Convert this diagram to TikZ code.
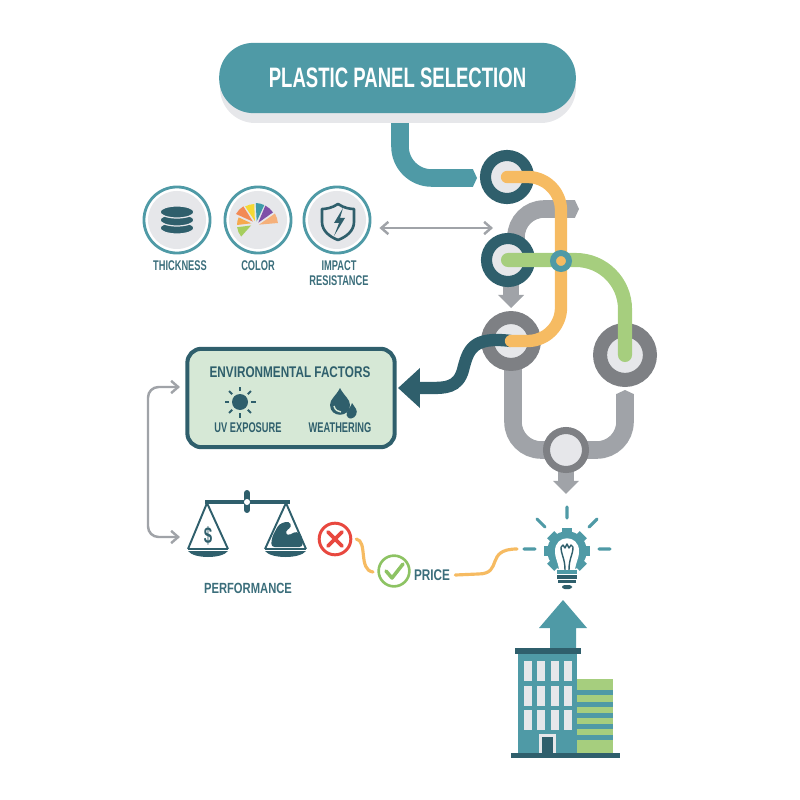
\documentclass[tikz,border=0pt]{standalone}
\usepackage{fontspec}
\setmainfont{Liberation Sans}
\newfontfamily\labelfont[FakeStretch=0.66]{Liberation Sans}
\newfontfamily\widelabelfont[FakeStretch=0.76]{Liberation Sans}
\usetikzlibrary{arrows.meta,backgrounds,calc}

\definecolor{pipeteal}{HTML}{4F9AA6}
\definecolor{darkteal}{HTML}{2F5F6C}
\definecolor{labelteal}{HTML}{3B6E7B}
\definecolor{pipegrey}{HTML}{A0A3A8}
\definecolor{ringgrey}{HTML}{7E8084}
\definecolor{padgrey}{HTML}{E6E7EA}
\definecolor{lineorange}{HTML}{F6BB62}
\definecolor{linegreen}{HTML}{A6CE7E}
\definecolor{boxgreen}{HTML}{D6E8D6}
\definecolor{badred}{HTML}{E8483F}
\definecolor{okgreen}{HTML}{8DC363}

\tikzset{
  station/.style={circle,draw=darkteal,fill=padgrey,inner sep=0pt,minimum size=24.5pt,line width=6.3pt},
  greystation/.style={station,draw=ringgrey},
  iconring/.style={circle,draw=pipeteal,fill=white,inner sep=0pt,minimum size=37.6pt,line width=1.6pt},
  pipe/.style={line width=10pt},
  thinarrow/.style={draw=pipegrey,line width=1.4pt},
  caption/.style={font=\labelfont\bfseries\fontsize{8}{8}\selectfont,text=labelteal,inner sep=0pt,align=center},
  bigcaption/.style={caption,font=\widelabelfont\bfseries\fontsize{8.8}{9}\selectfont},
  ray/.style={draw=pipeteal,line width=1.8pt,line cap=round},
  greyhead/.tip={Triangle[length=7.5pt,width=14.5pt]},
  pipecap/.tip={Triangle Cap[cap angle=130]},
  barb/.tip={Straight Barb[length=4pt,width=7pt]},
}

\begin{document}
\begin{tikzpicture}[x=0.02cm,y=-0.02cm]
  \useasboundingbox (0,0) rectangle (800,800);

  % title
  \fill[rounded corners=20pt,padgrey] (220,54) rectangle (576,123);
  \node[fill=pipeteal,rounded corners=19.5pt,minimum width=203pt,minimum height=40pt,inner sep=0pt,
    text=white,font=\labelfont\bfseries\fontsize{16}{16}\selectfont] (title) at (397.5,78) {PLASTIC PANEL SELECTION};

  % stations
  \node[station] (stA) at (507,177) {};
  \node[station] (stB) at (508,260) {};
  \node[greystation,minimum size=26.7pt,line width=7.4pt] (stC) at (511,341) {};
  \node[greystation,minimum size=28.4pt,line width=8pt] (stD) at (625,355) {};
  \node[greystation,minimum size=22.2pt,line width=4pt] (stE) at (566,450) {};
  \coordinate (teal end) at (477,178);
  \coordinate (grey top) at (579,209);
  \coordinate (grey back) at (625,390);
  \coordinate (result in) at (566,494);

  % pipes under the stations
  \begin{scope}[on background layer]
    \draw[pipe,draw=pipeteal,rounded corners=18pt,-{pipecap}] (title.south) ++(2.5,0) |- (teal end);
    \draw[pipe,draw=pipegrey,rounded corners=16pt,-{pipecap}] (stB.center) ++(8,0) |- (grey top);
    \draw[pipe,draw=pipegrey,rounded corners=16pt] (stC.center) ++(2,0) |- (stE.center);
    \draw[pipe,draw=pipegrey,rounded corners=16pt,-{pipecap}] (stE.center) -| (grey back);
    \draw[line width=9pt,draw=pipegrey,-{greyhead}] (stB.center) ++(3,0) -- ($(stC.north)+(0,-3)$);
    \draw[line width=9pt,draw=pipegrey,-{greyhead}] (stE.center) -- (result in);
  \end{scope}

  % environmental box
  \node[draw=darkteal,fill=boxgreen,line width=2.3pt,rounded corners=8pt,minimum width=118pt,minimum height=56pt,inner sep=0pt] (envbox) at (291,398) {};
  \coordinate (envin) at (398,388);
  \node[bigcaption,text=darkteal] (envtitle) at (290,372) {ENVIRONMENTAL FACTORS};
  \node[caption,text=darkteal] (uvtext) at (248,428) {UV EXPOSURE};
  \node[caption,text=darkteal] (weathertext) at (340,428) {WEATHERING};
  \fill[darkteal] (240,402) circle (8);
  \foreach \a in {0,45,...,315}
    \draw[darkteal,line width=1.2pt] (240,402) ++(\a:11) -- ++(\a:4.5);
  \fill[darkteal] (340,388) .. controls (336,396) and (330,399) .. (330,405) .. controls (330,418) and (350,418) .. (350,405) .. controls (350,399) and (344,396) .. (340,388) -- cycle;
  \draw[boxgreen,line width=0.8pt] (334,406) .. controls (335,410) and (338,412) .. (341,412);
  \fill[darkteal] (352,403) .. controls (351,407) and (348,409) .. (347,412) .. controls (345,417) and (350,419) .. (351,418.5) .. controls (356,418) and (358,412) .. (356,409) -- cycle;

  % coloured tracks
  \draw[line width=7pt,draw=darkteal,-{Triangle[length=12.5pt,width=22pt]}] (stC.center) .. controls (472,336) and (468,350) .. (463,370) .. controls (458,388) and (445,388) .. (430,388) -- (envin);
  \coordinate (jnpos) at (561,261);
  \draw[line width=7pt,draw=lineorange,line cap=round,rounded corners=19pt] (stA.center) -| (jnpos) |- (stC.center);
  \draw[line width=8pt,draw=linegreen,line cap=round,rounded corners=28pt] (stB.center) -| (stD.center);
  \node[circle,inner sep=0pt,minimum size=9.1pt,line width=3.4pt,draw=pipeteal,fill=lineorange] (jn) at (jnpos) {};

  % property icons
  \coordinate (prop end) at (493,228);
  \node[iconring] (thick) at (177,220) {};
  \node[iconring] (color) at (258,220) {};
  \node[iconring] (impact) at (337,220) {};
  \foreach \n in {thick,color,impact}
    \fill[padgrey] (\n) circle (29);
  \draw[thinarrow,{barb}-{barb}] (impact.east) ++(8,8) -- (prop end);
  \node[caption] (thicktext) at (180,266) {THICKNESS};
  \node[caption] (colortext) at (258,266) {COLOR};
  \node[caption] (impacttext) at (339,273) {IMPACT\\[0.5pt]RESISTANCE};
  \foreach \y in {228,220,212}
    \filldraw[fill=darkteal,draw=padgrey,line width=0.7pt] (177,\y) ellipse (17 and 6);
  \foreach \a/\b/\c/\r in {5/30/F5B07A/23,35/62/7E4FA8/22,65/88/3E9BA8/22,92/118/F5D933/21,122/150/F28A55/22,155/180/F6A94E/18,187/220/A6CE5E/18} {
    \definecolor{wedge}{HTML}{\c}
    \fill[wedge] (255,225) ++(-\a:4) -- ++(-\a:\r-4) arc[start angle=-\a,end angle=-\b,radius=\r] -- cycle;
  }
  \draw[darkteal,line width=1.5pt,line join=round,fill=padgrey] (338,204) .. controls (344,208) and (350,209) .. (354,209) -- (354,222) .. controls (354,231) and (346,237) .. (338,240) .. controls (330,237) and (322,231) .. (322,222) -- (322,209) .. controls (326,209) and (332,208) .. (338,204) -- cycle;
  \fill[darkteal] (343,208) -- (334,223) -- (339,223) -- (334,236) -- (345,218) -- (340,218) -- cycle;

  % balance
  \node[bigcaption,font=\widelabelfont\bfseries\fontsize{8.4}{9}\selectfont] (perftext) at (248,588) {PERFORMANCE};
  \coordinate (balance in) at (180,537);
  \coordinate (env out) at (180,387);
  \draw[thinarrow,{barb}-{barb},rounded corners=6pt] (env out) -- (148,387) -- (148,537) -- (balance in);
  \draw[darkteal,line width=2pt] (205,502) -- (290,502);
  \draw[darkteal,line width=3.4pt,line cap=round] (247,493) -- (247,510);
  \fill[white] (247,502) circle (3);
  \foreach \x/\l/\r in {207/188/228,286/265/306} {
    \draw[darkteal,line width=1.1pt,line join=round] (\l,549) -- (\x,503) -- (\r,549);
    \draw[darkteal,line width=1.1pt] (\l,549) -- (\r,549);
    \fill[darkteal] (\l,551) .. controls (\l+6,559) and (\r-6,559) .. (\r,551) -- cycle;
  }
  \node[text=darkteal,font=\labelfont\bfseries\fontsize{13}{13}\selectfont,inner sep=0pt] (dollar) at (208,536) {\$};
  \fill[darkteal,rounded corners=2pt] (271,547) -- (272,537) -- (279,524) -- (289,521) -- (292,527) -- (285,531) -- (287,536) -- (297,531) -- (302,536) -- (303,547) -- cycle;

  % price marks
  \node[circle,draw=badred,fill=white,line width=1.7pt,minimum size=18pt,inner sep=0pt] (nomark) at (335,539) {};
  \draw[badred,line width=2.2pt,line cap=round] (328,532) -- (342,546) (342,532) -- (328,546);
  \node[circle,draw=okgreen,fill=white,line width=1.5pt,minimum size=17.5pt,inner sep=0pt] (okmark) at (394,571) {};
  \draw[okgreen,line width=2pt,line cap=round,line join=round] (386,571) -- (392,578) -- (403,564);
  \node[bigcaption] (pricetext) at (432,575) {PRICE};
  \coordinate (bulb left) at (517,549);
  \draw[lineorange,line width=1.8pt,line cap=round] (nomark.east) ++(4,0) .. controls (368,541) and (358,570) .. (373,572);
  \draw[lineorange,line width=1.8pt,line cap=round] (pricetext.east) ++(5,0) -- (478,574) .. controls (504,574) and (484,549) .. (bulb left);

  % idea bulb
  \node[inner sep=0pt,minimum size=22.5pt,circle,fill=pipeteal] (gear) at (567,551) {};
  \foreach \a in {0,45,...,315}
    \fill[pipeteal,rotate around={\a:(gear)}] (562,528) rectangle (572,536);
  \draw[ray] (524,549) -- (535,549) (599,549) -- (610,549) (567,507) -- (567,518) (537,519) -- (545,527) (597,519) -- (589,527);
  \fill[white] (559,570) .. controls (558,561) and (555,559) .. (555,551) .. controls (555,534) and (579,534) .. (579,551) .. controls (579,559) and (576,561) .. (575,570) -- cycle;
  \draw[darkteal,line width=0.8pt,line join=round] (561,547) -- (563,545) -- (565,548) -- (567,544) -- (569,548) -- (571,545) -- (573,547);
  \draw[darkteal,line width=0.8pt] (561,547) .. controls (561,555) and (565,558) .. (565,570) (573,547) .. controls (573,555) and (569,558) .. (569,570);
  \fill[pipeteal] (557,570) rectangle (577,574);
  \fill[darkteal] (557,575) rectangle (577,579);
  \fill[darkteal] (558,580) rectangle (576,583);
  \fill[darkteal,rounded corners=1.5pt] (562,585) rectangle (572,589);

  % building
  \fill[pipeteal] (563,600) -- (587,628) -- (576,628) -- (576,650) -- (550,650) -- (550,628) -- (539,628) -- cycle;
  \fill[linegreen] (577,679) rectangle (613,753);
  \foreach \y in {690,702,713,724,735}
    \fill[pipeteal] (577,\y) rectangle (613,\y+5);
  \fill[pipeteal] (518,654) rectangle (577,753);
  \foreach \x in {524,537,551,564}
    \foreach \y in {661,686,710}
      \fill[padgrey] (\x,\y) rectangle (\x+8,\y+20);
  \fill[padgrey] (539,734) rectangle (556,753);
  \fill[darkteal] (542,737) rectangle (553,753);
  \fill[darkteal] (515,648) rectangle (581,654);
  \fill[darkteal] (511,753) rectangle (620,758);
\end{tikzpicture}
\end{document}
